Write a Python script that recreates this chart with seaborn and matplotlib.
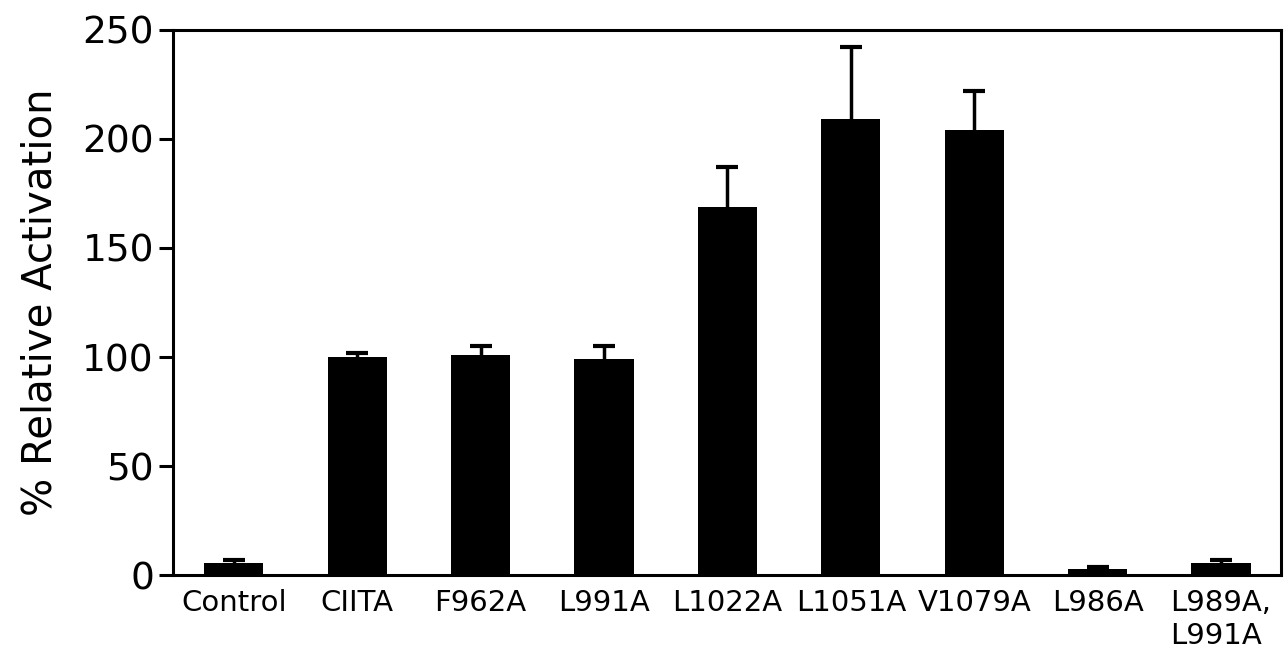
import numpy as np
import pandas as pd
import seaborn as sns
import matplotlib.pyplot as plt

# values
labels = ["Control", "CIITA", "F962A", "L991A", "L1022A", "L1051A",
          "V1079A", "L986A", "L989A,\nL991A"]
activation = [5.5, 100, 101, 99, 169, 209, 204, 3, 5.5]
err_up = [1.5, 2, 4, 6, 18, 33, 18, 1, 1.5]

df = pd.DataFrame({"mutant": labels, "activation": activation})

sns.set_style("white")
plt.rcParams["font.family"] = ["DejaVu Sans"]
plt.rcParams["text.color"] = "black"
plt.rcParams["axes.labelcolor"] = "black"
plt.rcParams["xtick.color"] = "black"
plt.rcParams["ytick.color"] = "black"

fig = plt.figure(figsize=(12.84, 6.62), dpi=100)
ax = fig.add_axes([0.135, 0.131, 0.863, 0.824])

sns.barplot(data=df, x="mutant", y="activation", color="black",
            width=0.48, errorbar=None, ax=ax, saturation=1, zorder=2,
            linewidth=0, edgecolor="black")
eb = ax.errorbar(np.arange(len(labels)), activation,
                 yerr=[np.zeros(len(labels)), err_up], fmt="none",
                 ecolor="black", elinewidth=2.5, capsize=8, capthick=3,
                 zorder=1)
# only the upper cap is drawn in the original
eb[1][0].set_visible(False)

ax.set_xlim(-0.49, 8.49)
ax.set_ylim(0, 250)
ax.set_yticks([0, 50, 100, 150, 200, 250])
ax.set_xlabel("")
ax.set_ylabel("% Relative Activation", fontsize=29, labelpad=16)

for s in ax.spines.values():
    s.set_visible(True)
    s.set_linewidth(2.2)
    s.set_color("black")
    s.set_zorder(3)

ax.tick_params(axis="y", length=10, width=2.2, direction="out",
               labelsize=27, left=True, pad=4)
ax.tick_params(axis="x", length=0, labelsize=21, pad=10)
for t in ax.get_xticklabels():
    t.set_multialignment("left")
    t.set_verticalalignment("top")

fig.savefig("out.png", dpi=100)
